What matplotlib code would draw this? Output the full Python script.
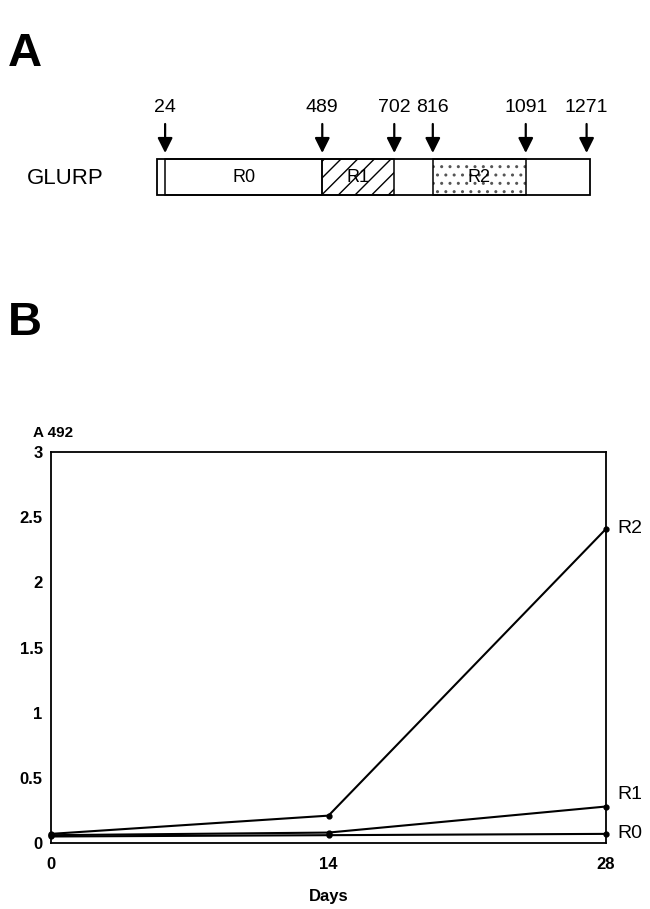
import matplotlib.pyplot as plt

plt.rcParams['font.family'] = ['Liberation Sans', 'DejaVu Sans']
plt.rcParams['hatch.linewidth'] = 1.0

# panel A: GLURP domain boundaries (amino acid positions)
boundaries = [24, 489, 702, 816, 1091, 1271]
regions = ['R0', 'R1', 'R2']
region_start = [24, 489, 816]
region_end = [489, 702, 1091]
region_hatch = ['', '//', '..']

# panel B: antibody response (A 492) over time
days = [0, 14, 28]
r0 = [0.05, 0.06, 0.07]
r1 = [0.06, 0.08, 0.28]
r2 = [0.07, 0.21, 2.41]
series = {'R0': r0, 'R1': r1, 'R2': r2}
label_shift = {'R0': 0, 'R1': 9, 'R2': 0}   # points, to keep end labels apart

fig = plt.figure(figsize=(6.5, 9.09), dpi=100)

# ---------- panel A ----------
axA = fig.add_axes([0, (909 - 220) / 909, 1, 140 / 909])
axA.set_xlim(-464.5, 1458.6)
axA.set_ylim(220, 80)
axA.axis('off')

box_top, box_bot = 159, 195
hatch_col = {'': 'black', '//': 'black', '..': '#555555'}
for s, e, h in zip(region_start, region_end, region_hatch):
    # hatch drawn first, outline drawn separately in black
    axA.add_patch(plt.Rectangle((s, box_top), e - s, box_bot - box_top,
                                fill=False, edgecolor=hatch_col[h], lw=0, hatch=h))
    axA.add_patch(plt.Rectangle((s, box_top), e - s, box_bot - box_top,
                                fill=False, edgecolor='black', lw=1.1))
axA.add_patch(plt.Rectangle((1, box_top), 1271 + 10 - 1, box_bot - box_top,
                            fill=False, edgecolor='black', lw=1.3))
for name, s, e in zip(regions, region_start, region_end):
    axA.text((s + e) / 2, 178, name, ha='center', va='center', fontsize=13)

for b in boundaries:
    axA.annotate('', xy=(b, 153), xytext=(b, 124),
                 arrowprops=dict(arrowstyle='-|>,head_width=0.45,head_length=0.9',
                                 color='black', lw=1.6, shrinkA=0, shrinkB=0))
    axA.text(b, 108, str(b), ha='center', va='center', fontsize=14)

fig.text(27 / 650, 1 - 178 / 909, 'GLURP', ha='left', va='center', fontsize=16)
fig.text(8 / 650, 1 - 66 / 909, 'A', ha='left', va='baseline', fontsize=34, fontweight='bold')
fig.text(8 / 650, 1 - 335 / 909, 'B', ha='left', va='baseline', fontsize=34, fontweight='bold')

# ---------- panel B ----------
axB = fig.add_axes([51 / 650, (909 - 843) / 909, (606 - 51) / 650, (843 - 452) / 909])
for name, vals in series.items():
    axB.plot(days, vals, color='black', lw=1.5, marker='o', markersize=3.5, clip_on=False)
    axB.annotate(name, xy=(days[-1], vals[-1]), xytext=(8, label_shift[name]),
                 textcoords='offset points', ha='left', va='center', fontsize=14)

axB.set_xlim(0, 28)
axB.set_ylim(0, 3)
axB.set_xticks(days)
axB.set_yticks([0, 0.5, 1, 1.5, 2, 2.5, 3])
axB.set_yticklabels(['0', '0.5', '1', '1.5', '2', '2.5', '3'])
axB.tick_params(length=0, labelsize=12)
axB.tick_params(axis='x', pad=10)
axB.tick_params(axis='y', pad=6)
for lab in axB.get_xticklabels() + axB.get_yticklabels():
    lab.set_fontweight('bold')
for sp in axB.spines.values():
    sp.set_linewidth(1.3)
axB.set_xlabel('Days', fontsize=12, fontweight='bold', labelpad=12)
fig.text(33 / 650, 1 - 433 / 909, 'A 492', ha='left', va='center', fontsize=11, fontweight='bold')

fig.savefig('out.png', dpi=100)
